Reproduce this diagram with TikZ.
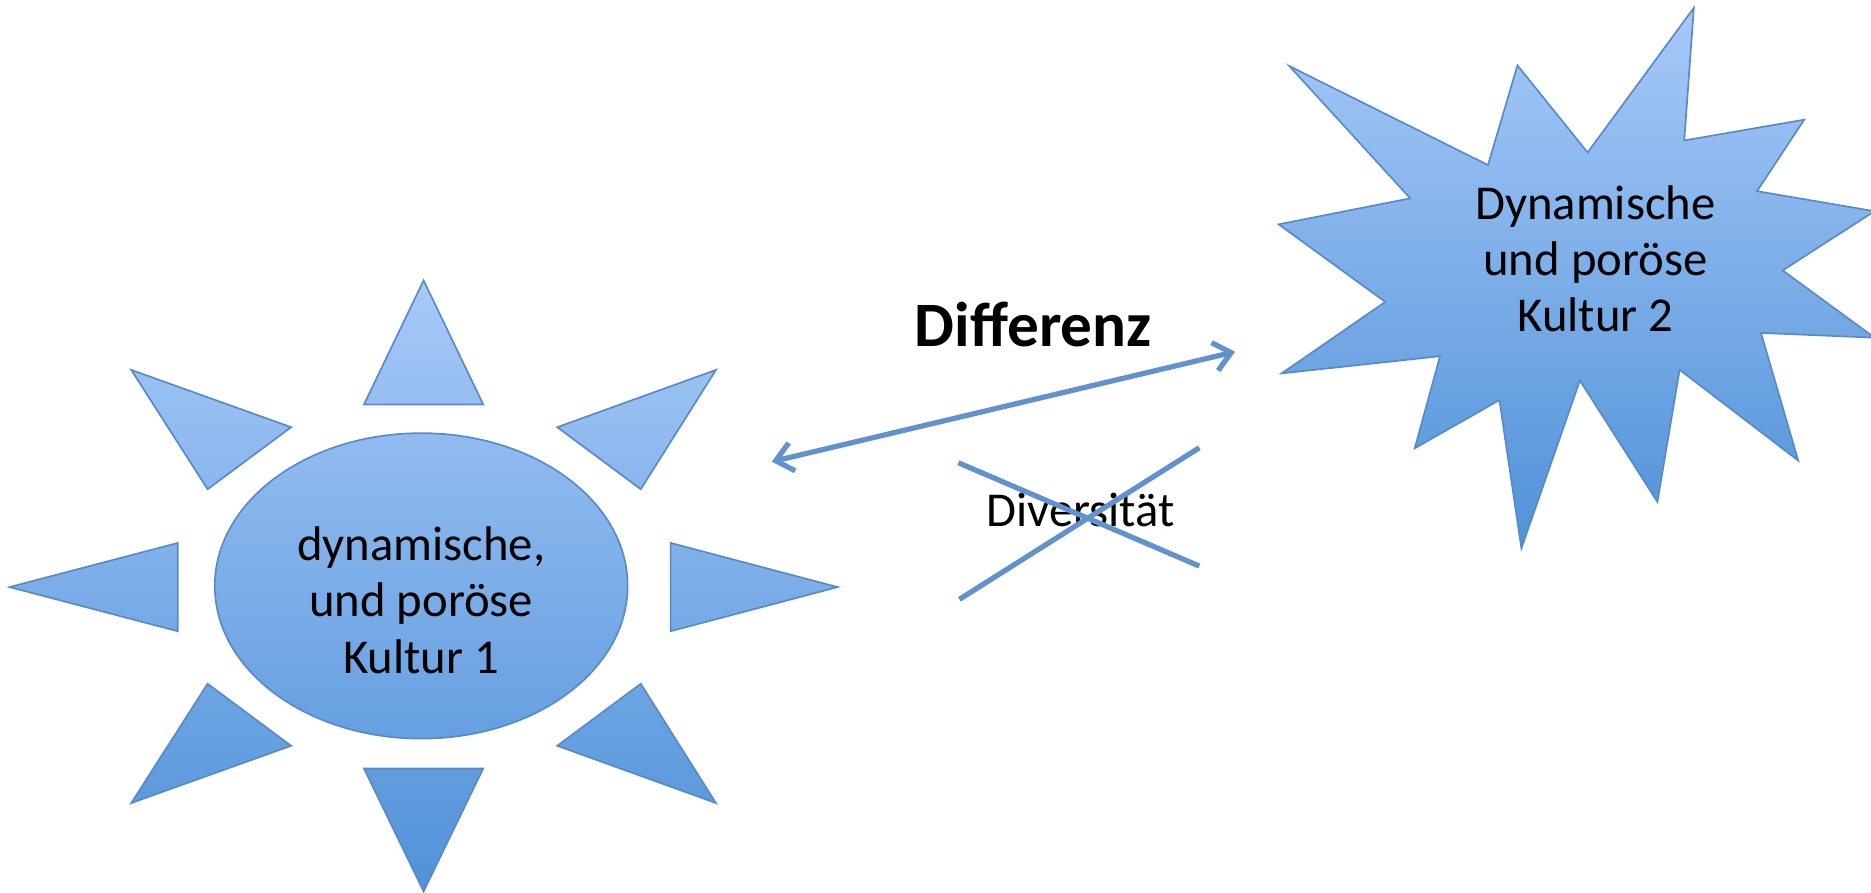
\documentclass[tikz,border=0pt]{standalone}
\usepackage{fontspec}
\setmainfont{Carlito}
\usepackage{tikz}
\usetikzlibrary{arrows.meta}
\definecolor{shapetop}{RGB}{167,201,248}
\definecolor{shapebot}{RGB}{80,146,216}
\definecolor{shapeline}{RGB}{88,138,200}
\definecolor{linkblue}{RGB}{98,146,206}
\def\bigtext{\fontsize{40.8}{47}\selectfont}
\tikzset{
  blob/.style={draw=shapeline,line width=1.4pt,line join=miter,
    top color=shapetop,bottom color=shapebot},
  link/.style={draw=linkblue,line width=4.4pt},
  label/.style={align=center,font=\bigtext,inner sep=0pt}
}

\begin{document}
\begin{tikzpicture}[x=1pt,y=-1pt]
\useasboundingbox (0,0) rectangle (1568,748);
% sun of culture 1
\path[blob] (353,491) ellipse [x radius=173,y radius=128]
  (355,235) -- (405,339) -- (305,339) -- cycle
  (305,644) -- (405,644) -- (355,747) -- cycle
  (8,492) -- (149,455) -- (149,529) -- cycle
  (562,455) -- (702,492) -- (562,529) -- cycle
  (110,310) -- (244,358) -- (174,410) -- cycle
  (600,310) -- (537,410) -- (467,358) -- cycle
  (174,573) -- (244,625) -- (110,673) -- cycle
  (537,573) -- (600,673) -- (467,625) -- cycle;
% star of culture 2
\path[blob] (1419.5,6.6) -- (1411.5,117.7) -- (1512,100.3) -- (1472.5,160.2)
  -- (1571,177) -- (1494,226.6) -- (1571,283) -- (1475.8,279)
  -- (1507,386) -- (1407.6,309.9) -- (1389,420.6) -- (1324,318.9)
  -- (1275,459.6) -- (1256.6,335.3) -- (1185.6,375.7) -- (1206.8,298.5)
  -- (1074.1,312.9) -- (1160.9,253) -- (1071.6,188) -- (1181.8,166.2)
  -- (1080.6,55.4) -- (1247,138.3) -- (1271.7,54.8) -- (1330.5,127.8) -- cycle;
\node[label] (kult1) at (353,503) {dynamische,\\und poröse\\Kultur 1};
\node[label] (kult2) at (1337,217) {Dynamische\\und poröse\\Kultur 2};
\node[font=\fontsize{53}{60}\selectfont\bfseries,inner sep=0pt,anchor=base] (diff) at (866,290.6) {Differenz};
\node[font=\bigtext,inner sep=0pt,anchor=base] (div) at (905.5,441.4) {Diversität};
% the double arrow
\coordinate (diffL) at (646.8,386.9);
\coordinate (diffR) at (1035,294.8);
\draw[link,{Straight Barb[length=14pt,width=24pt]}-{Straight Barb[length=14pt,width=24pt]}] (diffL) -- (diffR);
% crossing out
\coordinate (xa) at (803.2,387.8);
\coordinate (xb) at (1005.1,474.4);
\coordinate (xc) at (804,502.3);
\coordinate (xd) at (1005.1,375.2);
\draw[link] (xa) -- (xb);
\draw[link] (xc) -- (xd);
\end{tikzpicture}
\end{document}
